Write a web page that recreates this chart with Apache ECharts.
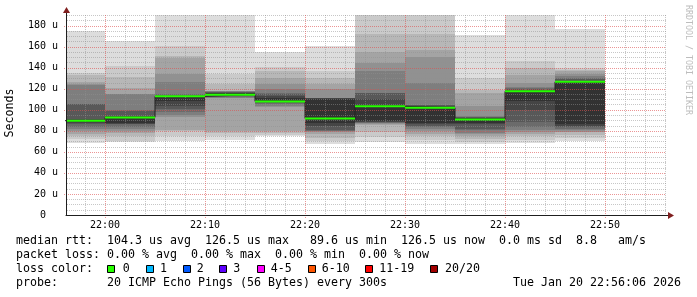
<!DOCTYPE html>
<html><head><meta charset="utf-8">
<script src="https://cdn.jsdelivr.net/npm/echarts@6/dist/echarts.min.js"></script>
<style>html,body{margin:0;padding:0;background:#fff}#c{width:697px;height:297px}</style>
</head><body><div id="c"></div>
<script>
// ---- data ----
const windowStart = '21:56:06';
const windowEnd = '22:56:06';
const stepSeconds = 300;
const stepEnds = ['22:00','22:05','22:10','22:15','22:20','22:25','22:30','22:35','22:40','22:45','22:50'];
const medianRtt = [89.6, 92.7, 112.7, 114.3, 107.9, 91.7, 103.2, 101.9, 90.8, 117.5, 126.5];
const lossCount = [0, 0, 0, 0, 0, 0, 0, 0, 0, 0, 0];
// 20 sorted ping times (us) per 5-minute step
const pings2200 = [68.6, 72, 74.6, 77, 80, 82, 84, 86, 87.6, 88, 90.5, 91, 105.7, 105.8, 123.8, 124.5, 126, 133, 135.2, 175.2];
const pings2205 = [69, 70.2, 75.5, 78, 80, 82.1, 84, 86, 86.9, 87, 93, 94, 99, 99.5, 114.6, 115, 121, 131, 141.6, 165.7];
const pings2210 = [70, 75, 80, 80.5, 93, 95, 98, 101, 104, 108, 112.5, 113, 114, 115, 126, 134, 149, 151.4, 161, 191];
const pings2215 = [71.5, 75, 78, 80, 111, 111.5, 112, 113, 114, 114.5, 115.5, 116, 116.5, 117, 117.5, 117.8, 118, 124, 134, 191];
const pings2220 = [74.8, 76, 78, 80, 103, 104, 105, 106, 107, 108, 111, 113, 114.6, 116, 119.3, 124.1, 129.9, 136.8, 140.6, 154.6];
const pings2225 = [67.6, 70, 73, 77, 78.5, 79.5, 80, 80.5, 85, 87.6, 110.5, 110.8, 111, 111.2, 111.4, 119.3, 124.1, 130.5, 136.8, 161];
const pings2230 = [69.4, 74, 79, 85.4, 86, 87, 87.5, 88, 88.6, 89, 104.4, 110, 115.5, 116.2, 136.8, 144.7, 154.6, 172.4, 191, 191];
const pings2235 = [67, 71, 75, 77, 80, 82, 84, 85, 86, 87.6, 102.3, 104, 104.5, 104.8, 125.7, 150, 156.5, 172.4, 191, 191];
const pings2240 = [67, 69.5, 72, 75.5, 76.5, 78, 80.5, 82, 86, 87.6, 92, 92.5, 93, 93.5, 94, 104, 116, 118.5, 130.5, 171.4];
const pings2245 = [68, 71, 75, 77, 79, 81, 84, 88, 100, 108, 117.5, 118.5, 119.5, 120.6, 122, 125.5, 133, 140, 146, 191];
const pings2250 = [70, 73, 76, 78.7, 79, 80.5, 82, 83.2, 84.5, 86, 126.5, 127.5, 129, 130, 131.7, 134, 136.5, 137.5, 140, 177];
const xTickLabels = ['22:00','22:10','22:20','22:30','22:40','22:50'];
const yTickValues = [0, 20, 40, 60, 80, 100, 120, 140, 160, 180];
const yMax = 190;
const lossLabels = ['0','1','2','3','4-5','6-10','11-19','20/20'];

// ---- styles ----
const lossColors = ['#26ff00','#00b8ff','#0059ff','#5e00ff','#ff00ff','#ff5500','#ff0000','#a10000'];
const MONO = 'DejaVu Sans Mono';
const minorColor = 'rgba(143,143,143,0.5)';
const majorColor = 'rgba(222,79,79,0.6)';
const axisColor = '#1f1f1f';
const arrowColor = '#801f1f';

function toSec(s){const p=s.split(':').map(Number);return p[0]*3600+p[1]*60+(p[2]||0);}
function fmt(t){const h=Math.floor(t/3600),m=Math.floor((t%3600)/60);return String(h).padStart(2,'0')+':'+String(m).padStart(2,'0');}
const X0 = toSec(windowStart), X1 = toSec(windowEnd);
const xMajor = xTickLabels.map(toSec);
const pingList = [pings2200,pings2205,pings2210,pings2215,pings2220,pings2225,pings2230,pings2235,pings2240,pings2245,pings2250];

const smokeData = stepEnds.map((e,i)=>[toSec(e)-stepSeconds, toSec(e)].concat(pingList[i]));
const medianPts = [];
stepEnds.forEach((e,i)=>{medianPts.push([toSec(e)-stepSeconds, medianRtt[i]]);medianPts.push([toSec(e), medianRtt[i]]);});
const medianSeg = stepEnds.map((e,i)=>[toSec(e)-stepSeconds, toSec(e), medianRtt[i], lossCount[i]]);
function lossColorIdx(l){ if(l<=3) return l; if(l<=5) return 4; if(l<=10) return 5; if(l<=19) return 6; return 7; }

// grid line positions: [orientation (0 = vertical, 1 = horizontal), axis value]
const gridMinorItems = [], gridMajorItems = [];
for (let t = Math.ceil(X0/120)*120; t <= X1; t += 120) (t % 600 === 0 ? gridMajorItems : gridMinorItems).push([0, t]);
for (let v = 5; v <= yMax; v += 5) (v % 20 === 0 ? gridMajorItems : gridMinorItems).push([1, v]);

function shade(k){const v=Math.floor(190/10*(10-(k+1)))+50;return 'rgb('+v+','+v+','+v+')';}

function gridSeries(items, color, ext, z){
  return {
    type: 'custom', z: z, silent: true, data: items,
    itemStyle: {color: color},
    renderItem: function(params, api){
      const cs = params.coordSys;
      const vertical = api.value(0) === 0, v = api.value(1);
      const style = {stroke: color, fill: null, lineWidth: 1, lineDash: [1,1]};
      if (vertical) {
        const x = Math.round(api.coord([v, 0])[0]) + 0.5;
        return {type: 'line', shape: {x1: x, y1: cs.y, x2: x, y2: cs.y + cs.height + ext}, style: style};
      }
      const y = Math.round(api.coord([X0, v])[1]) + 0.5;
      return {type: 'line', shape: {x1: cs.x + 1 - ext, y1: y, x2: cs.x + cs.width, y2: y}, style: style};
    }
  };
}

const chart = echarts.init(document.getElementById('c'), null, {renderer:'canvas'});
const option = {
  animation: false,
  backgroundColor: '#ffffff',
  grid: {left: 66, right: 31, top: 15, bottom: 82},
  xAxis: {
    type: 'value', min: X0, max: X1, z: 10,
    axisLine: {show: true, onZero: false, lineStyle: {color: axisColor, width: 1}},
    axisTick: {show: false},
    axisLabel: {customValues: xMajor, formatter: v => fmt(v), fontFamily: MONO, fontSize: 10, color: '#000', margin: 5},
    splitLine: {show: false}
  },
  yAxis: {
    type: 'value', min: 0, max: yMax, z: 10,
    axisLine: {show: true, onZero: false, lineStyle: {color: axisColor, width: 1}},
    axisTick: {show: false},
    axisLabel: {customValues: yTickValues, formatter: v => v === 0 ? '0  ' : v + ' u', fontFamily: MONO, fontSize: 10, color: '#000', margin: 8},
    splitLine: {show: false}
  },
  series: [
    {
      type: 'custom', z: 1, silent: true,
      data: smokeData,
      renderItem: function(params, api){
        const cs = params.coordSys;
        const children = [];
        for (let k = 0; k < 10; k++) {
          const lo = api.value(2 + k), hi = api.value(21 - k);
          const a = api.coord([api.value(0), hi]);
          const b = api.coord([api.value(1), lo]);
          const x1 = Math.round(a[0]), x2 = Math.round(b[0]);
          const y1 = Math.round(a[1]), y2 = Math.round(b[1]);
          const r = echarts.graphic.clipRectByRect({x: x1, y: y1, width: x2 - x1, height: y2 - y1}, {x: cs.x, y: cs.y, width: cs.width, height: cs.height});
          if (r) children.push({type: 'rect', shape: r, style: {fill: shade(k)}});
        }
        return {type: 'group', children: children};
      }
    },
    gridSeries(gridMinorItems, minorColor, 0, 2),
    gridSeries(gridMajorItems, majorColor, 3, 2),
    {
      type: 'line', z: 3, silent: true, symbol: 'none',
      data: medianPts, lineStyle: {color: '#202020', width: 1}
    },
    {
      type: 'custom', z: 4, silent: true,
      data: medianSeg,
      renderItem: function(params, api){
        const cs = params.coordSys;
        const a = api.coord([api.value(0), api.value(2)]);
        const b = api.coord([api.value(1), api.value(2)]);
        const pts = echarts.graphic.clipPointsByRect([a, b], {x: cs.x, y: cs.y, width: cs.width, height: cs.height});
        return {type: 'line', shape: {x1: pts[0][0], y1: pts[0][1], x2: pts[1][0], y2: pts[1][1]},
          style: {stroke: lossColors[lossColorIdx(api.value(3))], lineWidth: 2}};
      }
    }
  ],
  graphic: []
};

const legendFont = {fontFamily: MONO, fontSize: 11.63, fill: '#000'};
const g = [];
function txt(x, y, s, extra){ g.push({type:'text', x:x, y:y, silent:true, z:100, style:Object.assign({text:s, verticalAlign:'middle', align:'left'}, legendFont, extra||{})}); }
txt(16, 241, 'median rtt:  104.3 us avg  126.5 us max   89.6 us min  126.5 us now  0.0 ms sd  8.8   am/s');
txt(16, 255, 'packet loss: 0.00 % avg  0.00 % max  0.00 % min  0.00 % now');
txt(16, 269, 'loss color:');
txt(16, 283, 'probe:       20 ICMP Echo Pings (56 Bytes) every 300s');
txt(681, 283, 'Tue Jan 20 22:56:06 2026', {align:'right'});
const boxX = [107, 146, 183, 219, 257, 308, 365, 430];
const boxTextX = [122.7, 160, 196.7, 233.3, 270.7, 321.7, 379.3, 445];
lossLabels.forEach((l, i) => {
  g.push({type:'rect', silent:true, z:100, shape:{x: boxX[i] + 0.5, y: 265.5, width: 7, height: 7}, style:{fill: lossColors[i], stroke:'#000', lineWidth:1}});
  txt(boxTextX[i], 269, l);
});
// axis title & watermark
g.push({type:'text', x:10, y:113, rotation: Math.PI/2, silent:true, z:100, style:Object.assign({text:'Seconds', align:'center', verticalAlign:'middle'}, legendFont)});
g.push({type:'text', x:688, y:5, rotation: -Math.PI/2, silent:true, z:100, style:{text:'RRDTOOL / TOBI OETIKER', align:'left', verticalAlign:'middle', fontFamily: MONO, fontSize: 8.3, fill:'#bdbdbd'}});
// axis extensions & arrows
g.push({type:'line', silent:true, z:100, shape:{x1:66.5, y1:15, x2:66.5, y2:10}, style:{stroke:axisColor, lineWidth:1}});
g.push({type:'polygon', silent:true, z:100, shape:{points:[[63,13],[70,13],[66.5,7]]}, style:{fill:arrowColor}});
g.push({type:'line', silent:true, z:100, shape:{x1:666, y1:215.5, x2:669, y2:215.5}, style:{stroke:axisColor, lineWidth:1}});
g.push({type:'polygon', silent:true, z:100, shape:{points:[[668,212],[668,219],[674,215.5]]}, style:{fill:arrowColor}});
option.graphic = g;
chart.setOption(option);
</script>
</body></html>
